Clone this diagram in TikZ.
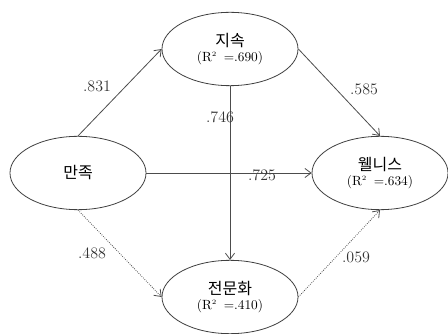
\documentclass[tikz,border=0pt]{standalone}
\usepackage{fontspec}
\newfontfamily\krfont{Noto Sans CJK KR}
\usepackage{tikz}
\usetikzlibrary{arrows.meta, shapes.geometric}

\begin{document}
\begin{tikzpicture}[
            x=0.75pt, y=-0.75pt,
            >={Straight Barb[length=1.6mm, width=2.4mm]},
            construct/.style={ellipse, draw=black!75, line width=0.6pt, minimum width=102pt, minimum height=55pt, inner sep=0pt, align=center},
            path solid/.style={->, draw=black!70, line width=0.6pt},
            path dotted/.style={->, draw=black!70, line width=0.6pt, densely dotted},
            coef label/.style={font=\large, text=black!80, inner sep=0pt},
        ]
        \useasboundingbox (0,0) rectangle (448,334);

        % Latent constructs.
        \node[construct] (satis) at (78,173) {\large\krfont 만족};
        \node[construct] (persist) at (230,49) {{\large\krfont 지속}\\[-1pt]{(R$^{\scriptscriptstyle 2}$\enspace=.690)}};
        \node[construct] (wellness) at (380,173) {{\large\krfont 웰니스}\\[-1pt]{(R$^{\scriptscriptstyle 2}$\enspace=.634)}};
        \node[construct] (expert) at (230,297) {{\large\krfont 전문화}\\[-1pt]{(R$^{\scriptscriptstyle 2}$\enspace=.410)}};

        % Structural paths; dotted ones are not significant.
        \draw[path solid] (satis.north) -- (persist.west);
        \draw[path solid] (persist.east) -- (wellness.north);
        \draw[path solid] (satis.east) -- (wellness.west);
        \draw[path solid] (persist.south) -- (expert.north);
        \draw[path dotted] (satis.south) -- (expert.west);
        \draw[path dotted] (expert.east) -- (wellness.south);

        \node[coef label] (c1) at (97,86) {.831};
        \node[coef label] (c2) at (364,89) {.585};
        \node[coef label] (c3) at (220,117) {.746};
        \node[coef label] (c4) at (262,175) {.725};
        \node[coef label] (c5) at (92,253) {.488};
        \node[coef label] (c6) at (356,257) {.059};
        \end{tikzpicture}
\end{document}
